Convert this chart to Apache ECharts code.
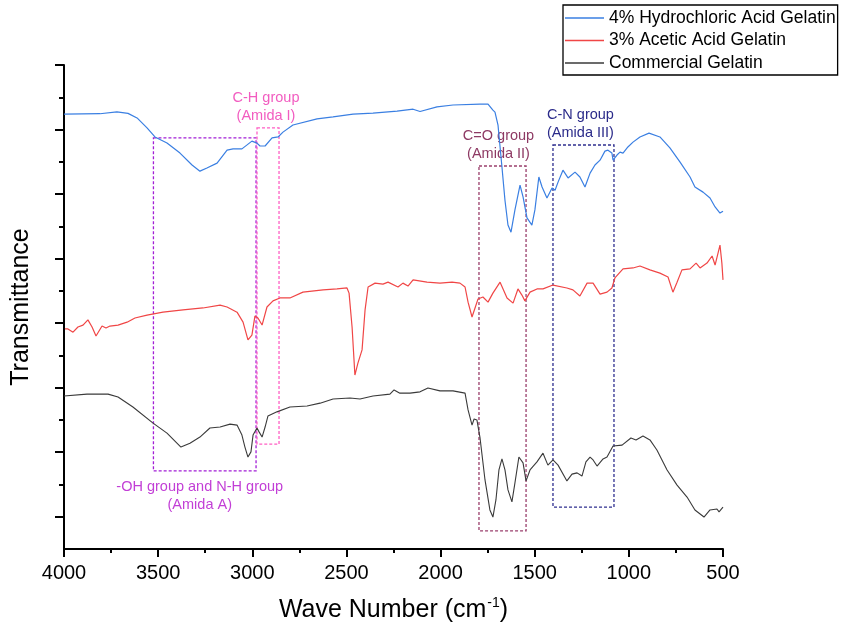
<!DOCTYPE html>
<html>
<head>
<meta charset="utf-8">
<script src="https://cdn.jsdelivr.net/npm/echarts@6/dist/echarts.min.js"></script>
<style>
  html, body { margin: 0; padding: 0; background: #fff; }
  #chart { width: 841px; height: 630px; }
</style>
</head>
<body>
<div id="chart"></div>
<script>
// FTIR spectra, wave number (cm-1) vs transmittance (arbitrary offset units)
const hclWave = [4000, 3809, 3719, 3660, 3612, 3559, 3517, 3453, 3384, 3320, 3278, 3241, 3187, 3134, 3102, 3055,
  3002, 2975, 2959, 2932, 2895, 2863, 2837, 2784, 2656, 2571, 2465, 2359, 2231, 2146, 2109, 2019, 1934, 1791, 1748,
  1722, 1711, 1695, 1674, 1658, 1642, 1626, 1605, 1578, 1562, 1541, 1515, 1499, 1478, 1461, 1435, 1408, 1392, 1376,
  1350, 1323, 1286, 1260, 1233, 1206, 1180, 1153, 1127, 1111, 1090, 1084, 1063, 1047, 1031, 1005, 978, 941, 893,
  835, 782, 728, 675, 649, 606, 569, 542, 516, 500];
const hclT = [134.8, 134.9, 135.5, 135.0, 133.6, 130.5, 127.7, 125.8, 122.7, 119.0, 117.1, 118.1, 119.6, 123.6, 124.0, 124.0,
  126.4, 125.8, 124.9, 124.9, 127.4, 127.7, 129.2, 131.4, 133.3, 133.9, 134.8, 135.1, 135.7, 136.3, 135.6, 137.0, 137.6, 137.9, 137.9,
  136.0, 135.4, 131.4, 118.4, 108.1, 100.4, 98.2, 105.1, 112.8, 109.1, 102.6, 100.4, 105.1, 115.3, 112.2, 108.8, 111.9, 111.2, 113.7,
  117.4, 115.0, 116.8, 115.3, 112.2, 116.5, 119.0, 120.5, 123.3, 123.6, 122.7, 120.5, 122.1, 123.0, 122.7, 124.6, 126.1, 127.7, 128.9,
  127.7, 124.3, 119.9, 115.3, 112.2, 110.6, 108.8, 106.0, 104.1, 104.7];

const aceticWave = [3995, 3979, 3952, 3926, 3899, 3873, 3851, 3830, 3798, 3777, 3756, 3713, 3665, 3623, 3559, 3474, 3368,
  3262, 3171, 3134, 3081, 3049, 3023, 3002, 2986, 2970, 2948, 2922, 2890, 2853, 2800, 2731, 2624, 2550, 2497, 2486, 2470,
  2455, 2439, 2417, 2401, 2385, 2348, 2306, 2279, 2226, 2200, 2173, 2146, 2072, 2003, 1939, 1897, 1870, 1854, 1833, 1817,
  1801, 1775, 1748, 1722, 1684, 1647, 1615, 1589, 1568, 1552, 1525, 1488, 1456, 1403, 1329, 1297, 1260, 1222, 1190, 1153,
  1116, 1090, 1074, 1031, 978, 941, 888, 835, 792, 766, 744, 718, 675, 643, 622, 585, 558, 542, 516, 506, 500];
const aceticT = [68.2, 68.2, 67.2, 68.8, 69.4, 71.0, 68.8, 66.0, 69.1, 68.5, 69.1, 69.4, 70.3, 71.6, 72.5, 73.4, 74.1,
  74.7, 75.6, 75.0, 73.4, 70.3, 64.8, 66.3, 72.2, 71.6, 69.4, 75.0, 76.9, 77.8, 77.8, 79.6, 80.3, 80.6, 80.9, 79.3, 68.8,
  53.9, 57.6, 61.7, 74.1, 81.2, 82.4, 82.1, 82.7, 81.2, 82.4, 81.5, 83.4, 82.7, 82.4, 82.7, 82.4, 81.2, 76.5, 71.9, 74.7,
  77.5, 78.1, 76.5, 79.3, 82.7, 77.8, 76.2, 80.6, 78.7, 76.9, 79.6, 80.6, 80.6, 81.8, 80.9, 80.3, 78.4, 82.4, 82.4, 79.0,
  79.6, 80.9, 84.0, 86.8, 87.1, 87.7, 86.5, 85.5, 84.3, 79.6, 82.7, 86.5, 86.8, 88.6, 87.1, 88.6, 90.8, 88.0, 94.2, 88.6, 83.4];

const commWave = [4000, 3878, 3766, 3713, 3634, 3527, 3453, 3379, 3331, 3278, 3225, 3171, 3118, 3081, 3055, 3039, 3023,
  3007, 2996, 2975, 2964, 2948, 2932, 2917, 2869, 2800, 2709, 2640, 2571, 2481, 2428, 2359, 2269, 2247, 2216, 2162, 2109,
  2067, 2003, 1934, 1870, 1854, 1833, 1822, 1807, 1791, 1764, 1738, 1722, 1706, 1690, 1674, 1658, 1642, 1621, 1605, 1584,
  1562, 1546, 1525, 1488, 1456, 1430, 1403, 1376, 1329, 1302, 1275, 1249, 1228, 1206, 1190, 1169, 1137, 1116, 1084, 1036,
  989, 962, 925, 888, 851, 797, 744, 691, 649, 601, 569, 532, 521, 500];
const commT = [47.4, 48.0, 48.0, 47.1, 44.0, 39.0, 35.9, 31.6, 32.8, 34.7, 37.5, 37.8, 38.7, 38.4, 35.3, 31.6, 28.5,
  30.1, 35.3, 37.5, 36.3, 34.7, 37.8, 41.2, 42.5, 44.0, 44.3, 45.2, 46.5, 46.8, 46.5, 47.4, 48.0, 49.3, 48.3, 48.3, 48.7,
  49.9, 49.0, 49.0, 48.3, 43.1, 38.4, 40.3, 40.0, 34.7, 21.4, 12.1, 9.9, 15.2, 24.5, 27.9, 24.5, 18.3, 14.6, 20.5, 28.5,
  26.7, 21.1, 24.5, 27.0, 29.7, 26.0, 27.6, 26.0, 21.1, 23.2, 23.6, 22.6, 27.0, 28.5, 27.6, 25.7, 27.9, 28.5, 31.9, 32.2,
  34.4, 33.8, 35.0, 33.8, 30.7, 24.5, 19.8, 16.1, 12.1, 9.9, 12.1, 12.4, 11.5, 13.0];

const seriesNames = ['4% Hydrochloric Acid Gelatin', '3% Acetic Acid Gelatin', 'Commercial Gelatin'];

// band annotations: [wave from, wave to], [T low, T high]
const bandNames = ['-OH group and N-H group\n(Amida A)', 'C-H group\n(Amida I)', 'C=O group\n(Amida II)', 'C-N group\n(Amida III)'];
const bandWave = [[3525, 2980], [2975, 2858], [1796, 1546], [1403, 1079]];
const bandT = [[24.2, 127.4], [32.5, 130.5], [5.6, 118.7], [13.0, 125.2]];

const majorTicks = [10, 30, 50, 70, 90, 110, 130, 150];
const minorTicks = [20, 40, 60, 80, 100, 120, 140];

const FONT = 'Liberation Sans, Arial, sans-serif';
const bandStyle = [
  { border: '#a21fd6', text: '#c23fd6', pos: 'bottom', dist: 7, off: [-5, 0] },
  { border: '#ff5fc4', text: '#f25cc0', pos: 'top', dist: 3, off: [-2, 0] },
  { border: '#9a3f6c', text: '#8e3a64', pos: 'top', dist: 3, off: [-4, 0] },
  { border: '#2e2e8f', text: '#2b2b8a', pos: 'top', dist: 3, off: [-3, 0] }
];

function zip(xs, ys) {
  return xs.map((x, i) => [x, ys[i]]);
}

const markAreaData = bandNames.map((name, i) => {
  const st = bandStyle[i];
  return [
    {
      name: name,
      xAxis: bandWave[i][0],
      yAxis: bandT[i][1],
      itemStyle: { color: 'rgba(0,0,0,0)', borderColor: st.border, borderWidth: 1.3, borderType: [3, 2] },
      label: {
        show: true, position: st.pos, distance: st.dist, offset: st.off,
        color: st.text, fontSize: 14.5, lineHeight: 17.5, fontFamily: FONT, align: 'center'
      }
    },
    { xAxis: bandWave[i][1], yAxis: bandT[i][0] }
  ];
});

const chart = echarts.init(document.getElementById('chart'), null, { renderer: 'canvas' });
chart.setOption({
  animation: false,
  backgroundColor: '#fff',
  textStyle: { fontFamily: FONT },
  grid: { left: 64, right: 118, top: 65, bottom: 81, outerBoundsMode: 'none' },
  legend: {
    data: seriesNames,
    orient: 'vertical',
    left: 563,
    top: 5,
    padding: [4, 2, 3, 2],
    icon: 'rect',
    itemWidth: 39,
    itemHeight: 1.4,
    itemGap: 4.5,
    selectedMode: false,
    borderColor: '#000',
    borderWidth: 1.3,
    textStyle: { fontSize: 17.5, color: '#000', fontFamily: FONT, lineHeight: 17 }
  },
  xAxis: {
    type: 'value',
    min: 500,
    max: 4000,
    interval: 500,
    inverse: true,
    name: 'Wave Number (cm{sup|-1})',
    nameLocation: 'middle',
    nameGap: 47,
    nameTextStyle: {
      fontSize: 25, color: '#000', fontFamily: FONT,
      rich: { sup: { fontSize: 14, color: '#000', padding: [0, 0, 14, 1], fontFamily: FONT } }
    },
    axisLine: { show: true, lineStyle: { color: '#000', width: 2 } },
    axisTick: { show: true, length: 8, lineStyle: { color: '#000', width: 2 } },
    minorTick: { show: true, splitNumber: 2, length: 4, lineStyle: { color: '#000', width: 2 } },
    axisLabel: { fontSize: 20, color: '#000', margin: 14, fontFamily: FONT, formatter: v => String(v) },
    splitLine: { show: false }
  },
  yAxis: [
    {
      type: 'value',
      min: 0,
      max: 150,
      position: 'left',
      name: 'Transmittance',
      nameLocation: 'middle',
      nameGap: 30,
      nameTextStyle: { fontSize: 25, color: '#000', fontFamily: FONT },
      axisLine: { show: true, lineStyle: { color: '#000', width: 2 } },
      axisTick: { show: true, length: 9, customValues: majorTicks, lineStyle: { color: '#000', width: 2 } },
      axisLabel: { show: false },
      splitLine: { show: false }
    },
    {
      type: 'value',
      min: 0,
      max: 150,
      position: 'left',
      axisLine: { show: false },
      axisTick: { show: true, length: 5, customValues: minorTicks, lineStyle: { color: '#000', width: 2 } },
      axisLabel: { show: false },
      splitLine: { show: false }
    }
  ],
  series: [
    {
      name: seriesNames[0],
      type: 'line',
      data: zip(hclWave, hclT),
      symbol: 'none',
      color: '#3a7fe2',
      lineStyle: { color: '#3a7fe2', width: 1.2 },
      z: 3
    },
    {
      name: seriesNames[1],
      type: 'line',
      data: zip(aceticWave, aceticT),
      symbol: 'none',
      color: '#f04646',
      lineStyle: { color: '#f04646', width: 1.2 },
      z: 3
    },
    {
      name: seriesNames[2],
      type: 'line',
      data: zip(commWave, commT),
      symbol: 'none',
      color: '#3a3a3a',
      lineStyle: { color: '#3a3a3a', width: 1.1 },
      z: 3,
      markArea: {
        silent: true,
        data: markAreaData
      }
    }
  ]
});
</script>
</body>
</html>
